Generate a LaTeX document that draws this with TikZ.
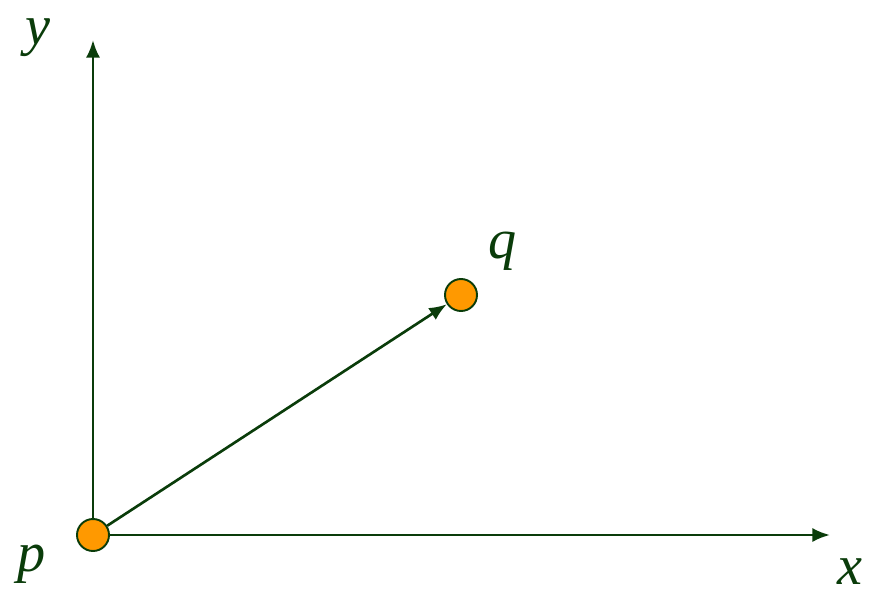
\documentclass[tikz,border=0pt]{standalone}
\usepackage{fontspec}
\setmainfont{Liberation Serif}
\usetikzlibrary{arrows.meta,positioning,calc}
\definecolor{axisGreen}{RGB}{10,60,10}
\definecolor{ptOrange}{RGB}{255,153,0}

\begin{document}
\begin{tikzpicture}[
    axis/.style={draw=axisGreen,line width=1.5pt,-{Latex[length=10pt,width=8pt]}},
    pt/.style={circle,draw=axisGreen,line width=1.1pt,fill=ptOrange,minimum size=0.64cm,inner sep=0pt},
    lbl/.style={font=\fontsize{32}{36}\selectfont\itshape,color=axisGreen,inner sep=0pt}]
  \useasboundingbox (0,0) rectangle (17.4,11.88);
  % axes
  \coordinate (yend) at (1.86,11.08);
  \coordinate (xend) at (16.6,1.18);
  \draw[axis] (1.86,1.18) -- (yend);
  \draw[axis] (1.86,1.18) -- (xend);
  % points
  \node[pt] (p) at (1.86,1.18) {};
  \node[pt] (q) at (9.22,5.98) {};
  \draw[axis] (p) -- (q);
  % labels
  \node[lbl] (ylab) at (0.76,11.12) {y};
  \node[lbl] (xlab) at (17.0,0.45) {x};
  \node[lbl] (plab) at (0.64,0.6) {p};
  \node[lbl] (qlab) at (10.06,6.86) {q};
\end{tikzpicture}
\end{document}
